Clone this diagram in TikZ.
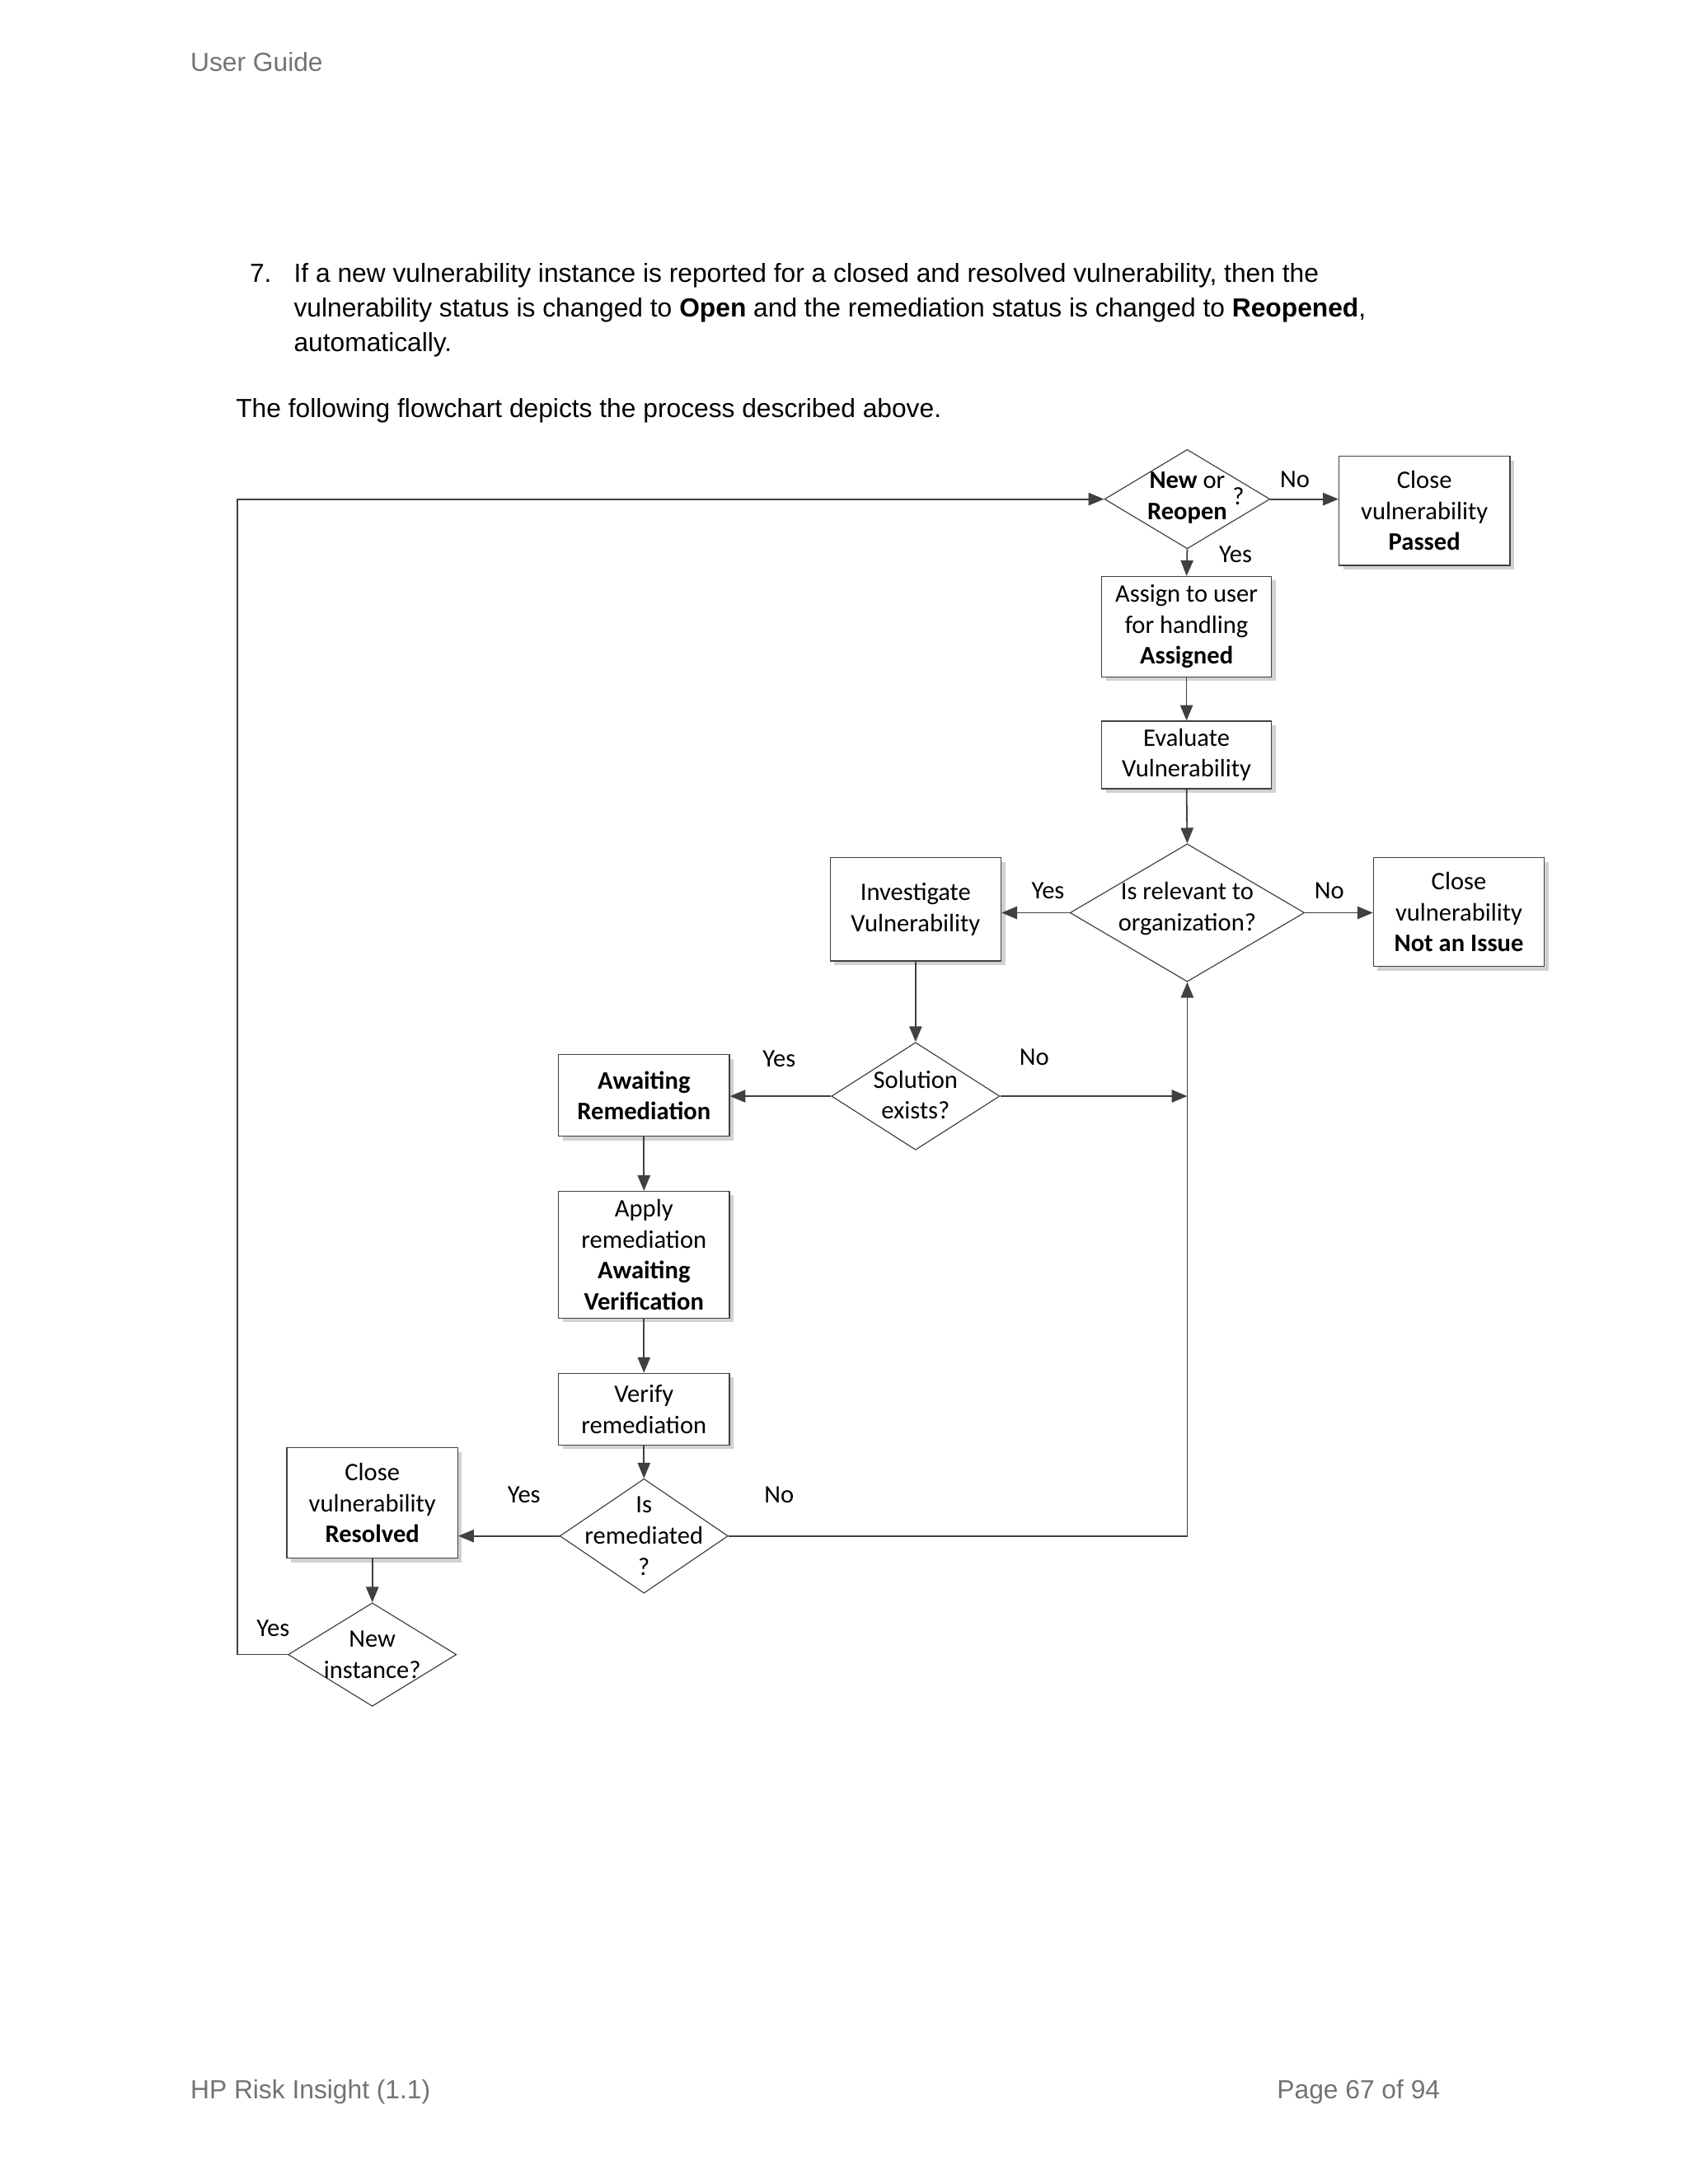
\documentclass[tikz,border=0pt]{standalone}
\usepackage{fontspec}
\setmainfont{Liberation Sans}
\newfontfamily\calfnt{Carlito}
\usetikzlibrary{shapes.geometric,arrows.meta}
\begin{document}
\begin{tikzpicture}[x=0.05cm,y=-0.05cm,
  box/.style={draw=black!75,line width=1pt,fill=white,inner sep=0,align=center,font=\calfnt\fontsize{26}{32}\selectfont},
  dia/.style={draw=black!75,line width=1pt,fill=white,diamond,inner sep=0},
  dtext/.style={align=center,font=\calfnt\fontsize{26}{32}\selectfont},
  lab/.style={font=\calfnt\fontsize{26}{32}\selectfont},
  conn/.style={line width=1.5pt,draw=black!75,-{Triangle[length=16pt,width=13pt]}},
  body/.style={font=\fontsize{27}{35}\selectfont,anchor=base west,inner sep=0}]
\useasboundingbox (0,0) rectangle (1224,1584);
\fill[white] (0,0) rectangle (1224,1584);
\node[body,text=black!55] (ug) at (138,52) {User Guide};
\node[body] (n7) at (181,205) {7.};
\node[body] (l1) at (213,205) {If a new vulnerability instance is reported for a closed and resolved vulnerability, then the};
\node[body] (l2) at (213,230) {vulnerability status is changed to \textbf{Open} and the remediation status is changed to \textbf{Reopened},};
\node[body] (l3) at (213,255) {automatically.};
\node[body] (fl) at (171,303) {The following flowchart depicts the process described above.};
\node[body,text=black!55] (ft1) at (138,1522) {HP Risk Insight (1.1)};
\node[body,text=black!55] (ft2) at (926,1522) {Page 67 of 94};
% shadows
\foreach \a/\b/\c/\d in {971/331/1095/410, 799/418/922/491, 799/523/922/572, 996/622/1120/701, 602/622/726/697, 405/765/529/824, 405/864/529/956, 405/996/529/1048, 208/1050/332/1130}
  \fill[black!18] (\a+3,\b+3) rectangle (\c+3,\d+3);
% boxes
\node[box,minimum width=124*0.05cm,minimum height=79*0.05cm] (cp) at (1033,370.5) {Close\\vulnerability\\\textbf{Passed}};
\node[box,minimum width=123*0.05cm,minimum height=73*0.05cm] (as) at (860.5,454.5) {Assign to user\\for handling\\\textbf{Assigned}};
\node[box,minimum width=123*0.05cm,minimum height=49*0.05cm] (ev) at (860.5,547.5) {Evaluate\\Vulnerability};
\node[box,minimum width=124*0.05cm,minimum height=79*0.05cm] (cn) at (1058,661.5) {Close\\vulnerability\\\textbf{Not an Issue}};
\node[box,minimum width=124*0.05cm,minimum height=75*0.05cm] (iv) at (664,659.5) {Investigate\\Vulnerability};
\node[box,minimum width=124*0.05cm,minimum height=59*0.05cm] (ar) at (467,794.5) {\textbf{Awaiting}\\\textbf{Remediation}};
\node[box,minimum width=124*0.05cm,minimum height=92*0.05cm] (ap) at (467,910) {Apply\\remediation\\\textbf{Awaiting}\\\textbf{Verification}};
\node[box,minimum width=124*0.05cm,minimum height=52*0.05cm] (vr) at (467,1022) {Verify\\remediation};
\node[box,minimum width=124*0.05cm,minimum height=80*0.05cm] (cr) at (270,1090) {Close\\vulnerability\\\textbf{Resolved}};
% diamonds
\node[dia,minimum width=120*0.05cm,minimum height=72*0.05cm] (d1) at (861,362) {};
\node[dtext] (d1t) at (861,361) {\textbf{New} or\\\textbf{Reopen}};
\node[lab] (d1q) at (898,360) {?};
\node[dia,minimum width=170*0.05cm,minimum height=100*0.05cm] (d2) at (861,662) {};
\node[dtext] (d2t) at (861,659) {Is relevant to\\organization?};
\node[dia,minimum width=122*0.05cm,minimum height=78*0.05cm] (d3) at (664,795) {};
\node[dtext] (d3t) at (664,794) {Solution\\exists?};
\node[dia,minimum width=122*0.05cm,minimum height=83*0.05cm] (d4) at (467,1114) {};
\node[dtext] (d4t) at (467,1114) {Is\\remediated\\?};
\node[dia,minimum width=122*0.05cm,minimum height=75*0.05cm] (d5) at (270,1200) {};
\node[dtext] (d5t) at (270,1200) {New\\instance?};
% connectors
\draw[conn] (d1.east) -- (cp.west |- d1.east);
\draw[conn] (d1.south) -- (as.north);
\draw[conn] (as.south) -- (ev.north);
\draw[conn] (ev.south) -- (d2.north);
\draw[conn] (d2.east) -- (cn.west |- d2.east);
\draw[conn] (d2.west) -- (iv.east |- d2.west);
\draw[conn] (iv.south) -- (d3.north);
\draw[conn] (d3.west) -- (ar.east |- d3.west);
\coordinate (j1) at (861,795);
\draw[conn] (d3.east) -- (j1);
\draw[conn] (ar.south) -- (ap.north);
\draw[conn] (ap.south) -- (vr.north);
\draw[conn] (vr.south) -- (d4.north);
\draw[conn] (d4.west) -- (cr.east |- d4.west);
\draw[conn] (d4.east) -- (861,1114) -- (d2.south);
\draw[conn] (cr.south) -- (d5.north);
\draw[conn] (d5.west) -- (172,1200) -- (172,362) -- (d1.west);
% labels
\node[lab] (y1) at (939,348) {No};
\node[lab] (y2) at (896,402) {Yes};
\node[lab] (y3) at (760,646) {Yes};
\node[lab] (y4) at (964,646) {No};
\node[lab] (y5) at (565,768) {Yes};
\node[lab] (y6) at (750,767) {No};
\node[lab] (y7) at (380,1084) {Yes};
\node[lab] (y8) at (565,1084) {No};
\node[lab] (y9) at (198,1181) {Yes};
\end{tikzpicture}
\end{document}
